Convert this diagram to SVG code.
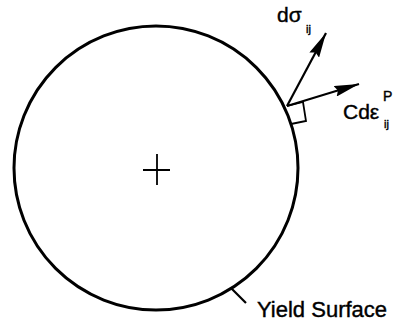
<svg xmlns="http://www.w3.org/2000/svg" width="395" height="323" viewBox="0 0 395 323">
<defs>
<marker id="ah" viewBox="0 0 25 11" refX="25" refY="5.5" markerWidth="25" markerHeight="11" markerUnits="userSpaceOnUse" orient="auto">
<path d="M0,0 L25,5.5 L0,11 L3,5.5 Z" fill="#000"/>
</marker>
</defs>
<style>
.ln{stroke:#000;fill:none;stroke-width:2.2}
.thick{stroke-width:3}
.thin{stroke-width:1.8}
.t{font-family:"Liberation Sans",Arial,sans-serif;fill:#000;stroke:#000;stroke-width:0.4}
</style>
<rect width="395" height="323" fill="#fff"/>
<g id="yield-surface">
<circle class="ln thick" cx="156" cy="168" r="142"/>
<path class="ln thin" d="M143,170 H170 M157,154 V185"/>
</g>
<g id="connectors">
<path class="ln" d="M287,106 L326,33" marker-end="url(#ah)"/>
<path class="ln" d="M287,106 L359,84" marker-end="url(#ah)"/>
<path class="ln thin" d="M287,106 L303,102 L306,121 L291,124"/>
<path class="ln" d="M231,288 L246,303"/>
</g>
<g id="label-dsigma">
<text class="t" x="277" y="22" font-size="21">dσ</text>
<text class="t" x="306" y="33" font-size="11">ij</text>
</g>
<g id="label-cdeps">
<text class="t" x="343" y="119" font-size="21">Cdε</text>
<text class="t" x="383" y="101" font-size="14">P</text>
<text class="t" x="384" y="128" font-size="11">ij</text>
</g>
<g id="label-yield">
<text class="t" x="257" y="317" font-size="22">Yield Surface</text>
</g>
</svg>
